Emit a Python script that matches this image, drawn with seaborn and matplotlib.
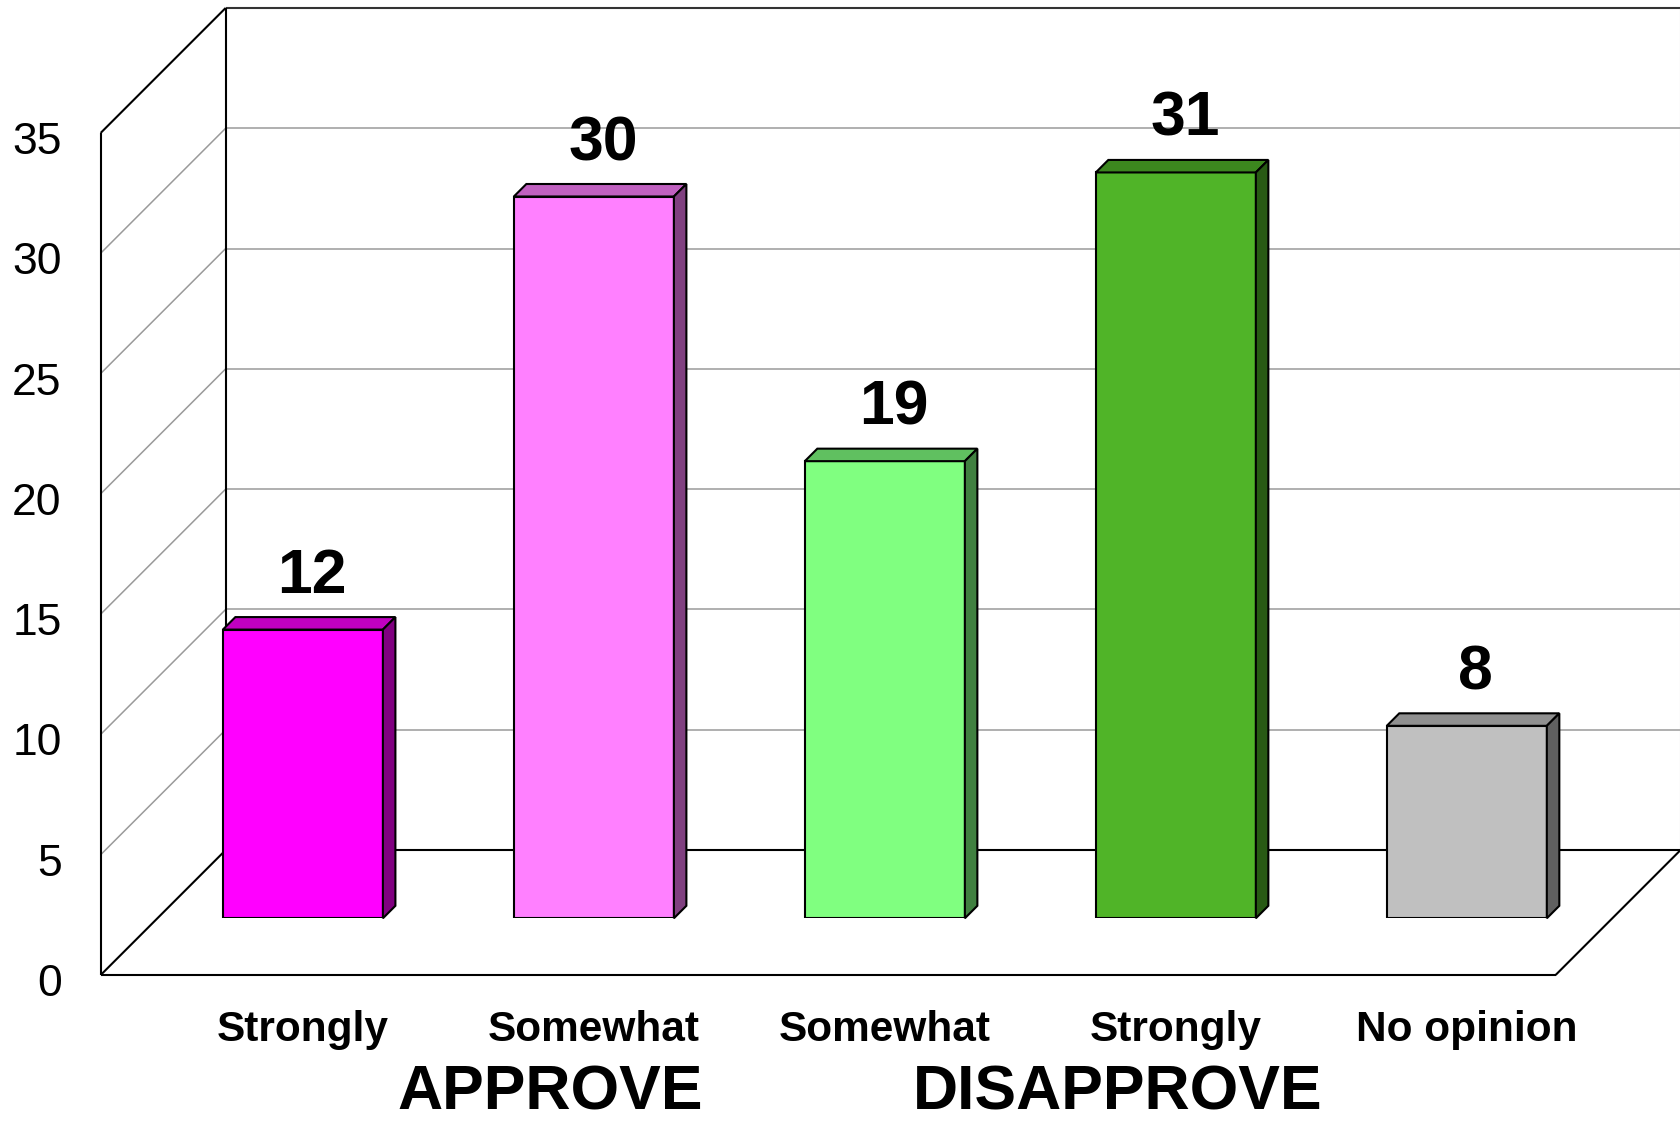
import matplotlib
matplotlib.use("Agg")
import matplotlib.pyplot as plt
import matplotlib.transforms as mtransforms
from matplotlib.patches import Polygon
import pandas as pd
import seaborn as sns

# ---- data -------------------------------------------------------------
responses = ["Strongly", "Somewhat", "Somewhat", "Strongly", "No opinion"]
groups = ["APPROVE", "APPROVE", "DISAPPROVE", "DISAPPROVE", "NONE"]
values = [12, 30, 19, 31, 8]
y_ticks = [0, 5, 10, 15, 20, 25, 30, 35]
group_labels = ["APPROVE", "DISAPPROVE"]
group_centers = [0.85, 2.80]          # category-axis position of the group captions

# face / top / side shades for the extruded bars
face_colors = ["#FF00FF", "#FF80FF", "#80FF80", "#50B428", "#C0C0C0"]
top_colors = ["#C000C0", "#C060C0", "#60C060", "#3C871E", "#909090"]
side_colors = ["#800080", "#804080", "#408040", "#285A14", "#606060"]

# ---- figure -----------------------------------------------------------
DPI = 100
W, H = 1681, 1123
sns.set_theme(style="white")
plt.rcParams["font.family"] = ["Liberation Sans", "DejaVu Sans"]

fig = plt.figure(figsize=(W / DPI, H / DPI), dpi=DPI, facecolor="white")
# axes = the mid-depth plane in which the bar fronts sit
ax_left, ax_right = 157.4, 1612.3
ax_bottom, ax_top = 918.3, 76.2
ax = fig.add_axes([ax_left / W, (H - ax_bottom) / H,
                   (ax_right - ax_left) / W, (ax_bottom - ax_top) / H])

df = pd.DataFrame({
    "slot": [f"{g}|{r}" for g, r in zip(groups, responses)],
    "response": responses,
    "value": values,
})

sns.barplot(data=df, x="slot", y="value", hue="slot", palette=face_colors,
            legend=False, width=0.55, saturation=1, errorbar=None,
            edgecolor="black", linewidth=1.5, ax=ax, zorder=3)

ax.set_xlim(-0.5, 4.5)
ax.set_ylim(0, 35)
ax.set_axis_off()

# pixel -> data conversion for the oblique depth offsets
x_scale = (ax_right - ax_left) / 5.0       # px per category
y_scale = (ax_bottom - ax_top) / 35.0      # px per unit
def depth(px):
    return px / x_scale, px / y_scale

bdx, bdy = depth(68.3)     # back wall
fdx, fdy = depth(-56.7)    # front edge of floor / value axis
cdx, cdy = depth(12.5)     # thickness of each bar

x0, x1 = -0.5, 4.5
line_kw = dict(clip_on=False, solid_capstyle="butt")

# back wall: gridlines and frame
for v in y_ticks[1:-1]:
    ax.plot([x0 + bdx, x1 + bdx], [v + bdy, v + bdy], color="#9a9a9a", lw=1.1, zorder=1, **line_kw)
ax.plot([x0 + bdx, x1 + bdx], [35 + bdy, 35 + bdy], color="#333333", lw=1.5, zorder=1.5, **line_kw)
ax.plot([x0 + bdx, x0 + bdx], [bdy, 35 + bdy], color="black", lw=1.5, zorder=1.5, **line_kw)
ax.plot([x1 + bdx, x1 + bdx], [bdy, 35 + bdy], color="#bbbbbb", lw=1.5, zorder=1.5, **line_kw)
ax.plot([x0 + bdx, x1 + bdx], [bdy, bdy], color="black", lw=1.5, zorder=1.5, **line_kw)

# left wall: diagonal gridlines from the front axis to the back wall
for v in y_ticks[1:-1]:
    ax.plot([x0 + fdx, x0 + bdx], [v + fdy, v + bdy], color="#9a9a9a", lw=1.1, zorder=1, **line_kw)
ax.plot([x0 + fdx, x0 + bdx], [35 + fdy, 35 + bdy], color="black", lw=1.5, zorder=1.5, **line_kw)
ax.plot([x0 + fdx, x0 + fdx], [fdy, 35 + fdy], color="black", lw=1.5, zorder=1.5, **line_kw)

# floor
ax.plot([x0 + fdx, x1 + fdx], [fdy, fdy], color="black", lw=1.5, zorder=1.5, **line_kw)
ax.plot([x0 + fdx, x0 + bdx], [fdy, bdy], color="black", lw=1.5, zorder=1.5, **line_kw)
ax.plot([x1 + fdx, x1 + bdx], [fdy, bdy], color="black", lw=1.5, zorder=1.5, **line_kw)

# extrude each bar: top and right-hand faces
bars = sorted(ax.patches, key=lambda p: p.get_x())
for i, p in enumerate(bars):
    bx, bw, bh = p.get_x(), p.get_width(), p.get_height()
    top = [(bx, bh), (bx + bw, bh), (bx + bw + cdx, bh + cdy), (bx + cdx, bh + cdy)]
    side = [(bx + bw, 0), (bx + bw, bh), (bx + bw + cdx, bh + cdy), (bx + bw + cdx, cdy)]
    ax.add_patch(Polygon(top, closed=True, facecolor=top_colors[i], edgecolor="black",
                         lw=1.5, zorder=3, clip_on=False, joinstyle="miter"))
    ax.add_patch(Polygon(side, closed=True, facecolor=side_colors[i], edgecolor="black",
                         lw=1.5, zorder=3, clip_on=False, joinstyle="miter"))

# value labels above the bars
lbl_shift = mtransforms.ScaledTranslation(9 / DPI, 36.5 / DPI, fig.dpi_scale_trans)
for i, p in enumerate(bars):
    cx = p.get_x() + p.get_width() / 2
    ax.text(cx, p.get_height(), f"{values[i]}", transform=ax.transData + lbl_shift,
            ha="center", va="baseline", fontsize=45, fontweight="bold", color="black")

# value-axis labels, right-aligned a little left of the front axis line
tick_shift = mtransforms.ScaledTranslation(-39 / DPI, -21 / DPI, fig.dpi_scale_trans)
for v in y_ticks:
    ax.text(x0 + fdx, v + fdy, f"{v}", transform=ax.transData + tick_shift,
            ha="right", va="baseline", fontsize=32, color="black")

# category labels and group captions
blend = mtransforms.blended_transform_factory(ax.transData, fig.transFigure)
for i, p in enumerate(bars):
    cx = p.get_x() + p.get_width() / 2
    ax.text(cx, (H - 1041) / H, responses[i], transform=blend,
            ha="center", va="baseline", fontsize=30.5, fontweight="bold", color="black")
for name, gx in zip(group_labels, group_centers):
    ax.text(gx, (H - 1110) / H, name, transform=blend,
            ha="center", va="baseline", fontsize=45, fontweight="bold", color="black")

fig.savefig("out.png", dpi=DPI, facecolor="white")
